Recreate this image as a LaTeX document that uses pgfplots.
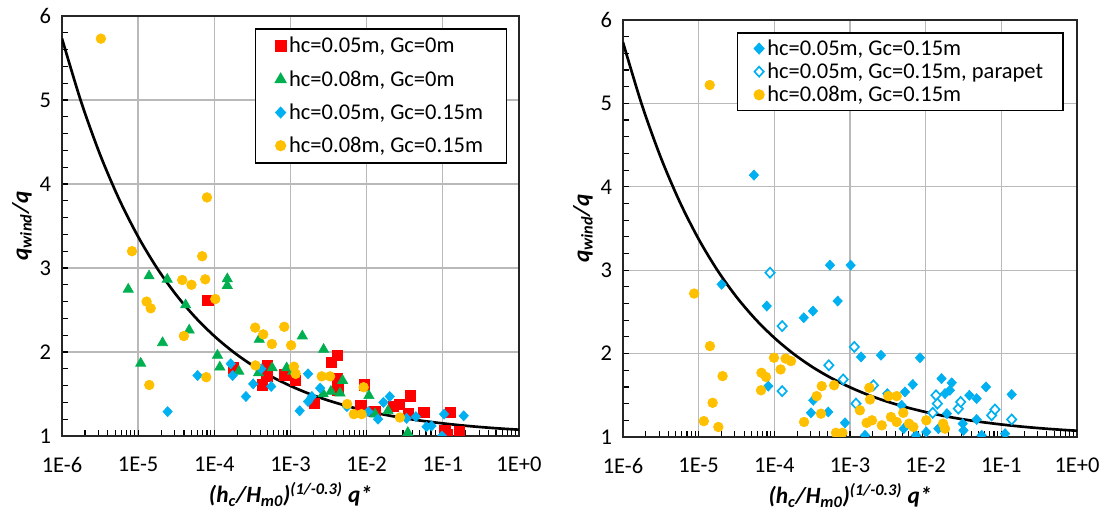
\documentclass[border=0pt]{standalone}
\usepackage{fontspec}
\setmainfont{Carlito}
\usepackage{pgfplots}
\pgfplotsset{compat=1.18}

\definecolor{cred}{RGB}{255,0,0}
\definecolor{cgreen}{RGB}{0,176,80}
\definecolor{cblue}{RGB}{0,176,240}
\definecolor{corange}{RGB}{255,192,0}

\pgfplotsset{
  panel/.style={
    scale only axis,
    xmin=1e-6, xmax=1, ymin=1, ymax=6,
    xtick={1e-6,1e-5,1e-4,1e-3,1e-2,1e-1,1},
    xticklabels={1E-6,1E-5,1E-4,1E-3,1E-2,1E-1,1E+0},
    minor xtick={2e-6,3e-6,4e-6,5e-6,6e-6,7e-6,8e-6,9e-6,
      2e-5,3e-5,4e-5,5e-5,6e-5,7e-5,8e-5,9e-5,
      2e-4,3e-4,4e-4,5e-4,6e-4,7e-4,8e-4,9e-4,
      2e-3,3e-3,4e-3,5e-3,6e-3,7e-3,8e-3,9e-3,
      2e-2,3e-2,4e-2,5e-2,6e-2,7e-2,8e-2,9e-2,
      0.2,0.3,0.4,0.5,0.6,0.7,0.8,0.9},
    ytick={1,2,3,4,5,6},
    minor ytick={1.2,1.4,1.6,1.8,2.2,2.4,2.6,2.8,3.2,3.4,3.6,3.8,4.2,4.4,4.6,4.8,5.2,5.4,5.6,5.8},
    xmajorgrids, ymajorgrids,
    major grid style={gray!55, line width=0.8pt},
    tick pos=left, tick align=inside,
    major tick length=3.5pt, minor tick length=3.5pt,
    every tick/.style={black, line width=0.7pt},
    axis line style={black!85, line width=1.1pt},
    tick label style={font=\fontsize{13.5}{15}\selectfont},
    /pgf/number format/assume math mode=true,
    yticklabel style={xshift=-3pt},
    xticklabel style={yshift=-9pt},
    xlabel={\textbf{\textit{(h\textsubscript{c}/H\textsubscript{m0})\textsuperscript{(1/-0.3)} q*}}},
    ylabel={\textbf{\textit{q\textsubscript{wind}/q}}},
    xlabel style={at={(axis description cs:0.5,0)}, anchor=center, yshift=-35pt, font=\fontsize{14}{16}\selectfont},
    ylabel style={at={(axis description cs:0,0.5)}, anchor=center, yshift=24pt, font=\fontsize{14}{16}\selectfont},
    clip marker paths=true,
    legend cell align=left,
    legend style={draw=black, line width=0.9pt, fill=white, inner xsep=12pt,
      font=\fontsize{13.5}{15}\selectfont},
  },
  pred/.style={only marks, mark=square*, mark size=3.1pt, mark options={draw=cred, fill=cred}},
  pgreen/.style={only marks, mark=triangle*, mark size=3.5pt, mark options={draw=cgreen, fill=cgreen}},
  pblue/.style={only marks, mark=diamond*, mark size=3pt, mark options={draw=cblue, fill=cblue, xscale=1.24}},
  popen/.style={only marks, mark=diamond*, mark size=3pt, mark options={draw=cblue, fill=white, line width=1pt, xscale=1.24}},
  porange/.style={only marks, mark=*, mark size=2.9pt, mark options={draw=corange, fill=corange}},
  fitline/.style={black, line width=1.6pt, smooth, no marks},
}

\begin{document}
\begin{tikzpicture}
\path[use as bounding box] (-37.2pt,-45pt) rectangle (624.6pt,261.6pt);

% left panel
\begin{semilogxaxis}[panel, at={(0pt,0pt)}, anchor=south west,
  width=274.2pt, height=252pt,
  legend style={at={(0.974,0.971)}, anchor=north east, row sep=5pt, inner ysep=3pt}]
\addplot[fitline, forget plot] coordinates {
  (1e-6,5.732) (1.778e-6,4.982) (3.162e-6,4.350) (5.623e-6,3.819) (1e-5,3.372)
  (1.778e-5,2.996) (3.162e-5,2.679) (5.623e-5,2.413) (1e-4,2.189) (1.778e-4,2.000)
  (3.162e-4,1.841) (5.623e-4,1.708) (1e-3,1.596) (1.778e-3,1.501) (3.162e-3,1.422)
  (5.623e-3,1.355) (1e-2,1.299) (1.778e-2,1.251) (3.162e-2,1.211) (5.623e-2,1.178)
  (1e-1,1.150) (1.778e-1,1.126) (3.162e-1,1.106) (5.623e-1,1.089) (1,1.075)};
\addplot[pred] coordinates {
  (8.24e-5,2.615) (1.77e-4,1.81) (4.94e-4,1.845) (4.90e-4,1.71) (4.27e-4,1.61)
  (8.43e-4,1.73) (4.15e-3,1.96) (3.47e-3,1.88) (1.15e-3,1.66) (4.10e-3,1.69)
  (4.17e-3,1.55) (2.04e-3,1.39) (9.27e-3,1.61) (8.39e-3,1.36) (1.28e-2,1.29)
  (2.24e-2,1.35) (2.69e-2,1.38) (3.77e-2,1.48) (3.51e-2,1.27) (5.62e-2,1.28)
  (1.26e-1,1.28) (1.06e-1,1.07) (1.15e-1,1.02) (1.64e-1,1.05)};
\addlegendentry{hc=0.05m, Gc=0m}
\addplot[pgreen] coordinates {
  (1.39e-5,2.905) (7.41e-6,2.746) (2.41e-5,2.865) (1.48e-4,2.87) (1.48e-4,2.79)
  (4.20e-5,2.56) (4.68e-5,2.26) (2.09e-5,2.11) (1.08e-5,1.865) (1.10e-4,1.96)
  (1.18e-4,1.82) (2.10e-4,1.77) (3.89e-4,2.15) (3.80e-4,1.75) (5.75e-4,1.81)
  (8.91e-4,1.81) (1.07e-3,1.77) (1.43e-3,2.19) (2.72e-3,2.03) (4.83e-3,1.66)
  (3.39e-3,1.53) (4.47e-3,1.51) (2.69e-3,1.50) (1.07e-2,1.48) (1.29e-2,1.26)
  (1.91e-2,1.30) (3.47e-2,1.04)};
\addlegendentry{hc=0.08m, Gc=0m}
\addplot[pblue] coordinates {
  (2.44e-5,1.29) (6.03e-5,1.72) (1.64e-4,1.86) (1.74e-4,1.72) (2.60e-4,1.47)
  (3.24e-4,1.62) (4.13e-4,1.80) (5.58e-4,1.59) (1.70e-3,1.74) (2.45e-3,1.57)
  (1.91e-3,1.47) (1.70e-3,1.41) (1.32e-3,1.30) (5.50e-3,1.35) (1.05e-2,1.29)
  (1.41e-2,1.20) (1.66e-2,1.40) (2.01e-2,1.47) (3.34e-2,1.21) (4.43e-2,1.23)
  (6.11e-2,1.11) (7.11e-2,1.12) (1.04e-1,1.26) (1.88e-1,1.24) (9.77e-2,1.00)};
\addlegendentry{hc=0.05m, Gc=0.15m}
\addplot[porange] coordinates {
  (3.24e-6,5.73) (8.00e-5,3.84) (8.30e-6,3.20) (6.93e-5,3.14) (3.79e-5,2.857)
  (5.01e-5,2.80) (7.60e-5,2.865) (1.03e-4,2.63) (1.29e-5,2.60) (1.46e-5,2.52)
  (3.98e-5,2.19) (1.40e-5,1.607) (7.83e-5,1.70) (3.44e-4,2.29) (4.39e-4,2.21)
  (5.70e-4,2.095) (8.28e-4,2.30) (1.02e-3,2.08) (3.47e-4,1.84) (1.11e-3,1.825)
  (1.17e-3,1.74) (2.57e-3,1.71) (3.31e-3,1.71) (9.12e-3,1.58) (5.55e-3,1.38)
  (6.79e-3,1.26) (8.57e-3,1.26) (2.73e-2,1.22)};
\addlegendentry{hc=0.08m, Gc=0.15m}
\end{semilogxaxis}

% right panel
\begin{semilogxaxis}[panel, at={(336.6pt,-0.6pt)}, anchor=south west,
  width=272.4pt, height=250.2pt,
  legend style={at={(0.971,0.971)}, anchor=north east, row sep=-1pt, inner xsep=10pt}]
\addplot[fitline, forget plot] coordinates {
  (1e-6,5.732) (1.778e-6,4.982) (3.162e-6,4.350) (5.623e-6,3.819) (1e-5,3.372)
  (1.778e-5,2.996) (3.162e-5,2.679) (5.623e-5,2.413) (1e-4,2.189) (1.778e-4,2.000)
  (3.162e-4,1.841) (5.623e-4,1.708) (1e-3,1.596) (1.778e-3,1.501) (3.162e-3,1.422)
  (5.623e-3,1.355) (1e-2,1.299) (1.778e-2,1.251) (3.162e-2,1.211) (5.623e-2,1.178)
  (1e-1,1.150) (1.778e-1,1.126) (3.162e-1,1.106) (5.623e-1,1.089) (1,1.075)};
\addplot[pblue] coordinates {
  (5.38e-5,4.14) (5.44e-4,3.06) (2.01e-5,2.83) (7.94e-5,2.57) (6.87e-4,2.63)
  (3.24e-4,2.51) (2.45e-4,2.43) (8.32e-5,1.61) (3.27e-4,1.44) (3.05e-4,1.29)
  (5.16e-4,1.30) (1.02e-3,3.06) (1.40e-3,1.96) (2.57e-3,1.98) (8.41e-3,1.95)
  (8.59e-4,1.17) (1.58e-3,1.02) (3.11e-3,1.52) (5.33e-3,1.54) (6.76e-3,1.63)
  (4.82e-3,1.38) (5.13e-3,1.10) (7.45e-3,1.02) (1.02e-2,1.06) (1.62e-2,1.70)
  (2.21e-2,1.65) (1.80e-2,1.52) (2.09e-2,1.56) (1.91e-2,1.28) (1.47e-2,1.10)
  (3.09e-2,1.16) (3.16e-2,1.08) (3.78e-2,1.50) (4.72e-2,1.46) (4.72e-2,1.21)
  (6.27e-2,1.60) (5.50e-2,1.02) (1.12e-1,1.04) (1.37e-1,1.51)};
\addlegendentry{hc=0.05m, Gc=0.15m}
\addplot[popen] coordinates {
  (8.77e-5,2.97) (1.27e-4,2.33) (5.25e-4,1.86) (1.27e-4,1.55) (1.14e-3,2.08)
  (8.13e-4,1.69) (1.20e-3,1.40) (2.04e-3,1.62) (1.37e-2,1.50) (1.43e-2,1.40)
  (1.24e-2,1.29) (2.70e-2,1.34) (2.90e-2,1.42) (7.45e-2,1.26) (8.24e-2,1.33)
  (1.37e-1,1.21)};
\addlegendentry{hc=0.05m, Gc=0.15m, parapet}
\addplot[porange] coordinates {
  (1.40e-5,5.22) (8.71e-6,2.72) (1.41e-5,2.09) (9.89e-5,1.95) (1.41e-4,1.94)
  (1.66e-4,1.91) (1.21e-4,1.81) (6.76e-5,1.77) (7.76e-5,1.72) (2.07e-5,1.73)
  (6.67e-5,1.56) (4.23e-4,1.61) (6.17e-4,1.62) (3.63e-4,1.49) (1.53e-5,1.41)
  (4.14e-4,1.28) (2.47e-4,1.18) (1.17e-5,1.19) (1.82e-5,1.12) (6.53e-4,1.05)
  (7.94e-4,1.05) (1.80e-3,1.59) (1.84e-3,1.45) (1.35e-3,1.32) (1.66e-3,1.17)
  (1.95e-3,1.20) (2.63e-3,1.14) (3.21e-3,1.49) (4.14e-3,1.49) (3.48e-3,1.24)
  (4.14e-3,1.18) (5.06e-3,1.29) (6.03e-3,1.16) (6.87e-3,1.12) (1.02e-2,1.20)
  (1.70e-2,1.16) (1.80e-2,1.10)};
\addlegendentry{hc=0.08m, Gc=0.15m}
\end{semilogxaxis}
\end{tikzpicture}
\end{document}
